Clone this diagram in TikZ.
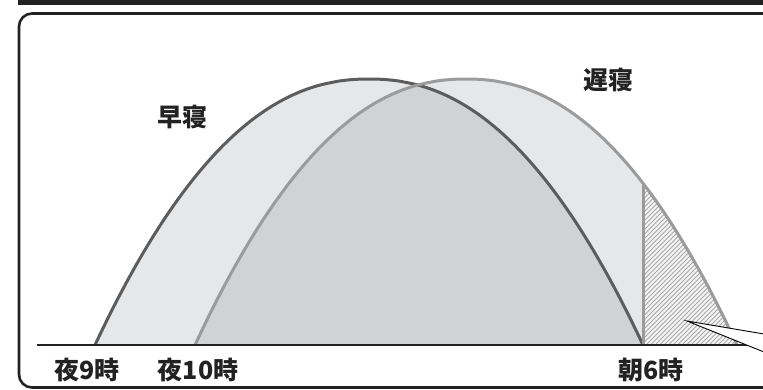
\documentclass[tikz,border=0pt]{standalone}
\usepackage{fontspec}
\newfontfamily\jp{Noto Sans CJK JP}
\definecolor{lightfill}{HTML}{E6E7E9}
\definecolor{darkfill}{HTML}{D1D2D4}
\definecolor{earlyc}{HTML}{5C5C5C}
\definecolor{latec}{HTML}{9B9B9B}
\definecolor{hatchc}{HTML}{A8A8A8}
\definecolor{framec}{HTML}{222222}
\begin{document}
\begin{tikzpicture}[x=1pt,y=-1pt,
  declare function={fe(\t)=345-266*(1-abs(\t)^2.2); fl(\t)=345-266*(1-abs(\t)^2.2);},
  earlyline/.style={draw=earlyc,line width=3pt},
  lateline/.style={draw=latec,line width=3pt},
  hatchline/.style={draw=hatchc,line width=0.9pt},
  axisline/.style={draw=framec,line width=2.6pt},
  framebox/.style={draw=framec,line width=2.6pt,rounded corners=13pt},
  lbl/.style={font=\jp\bfseries\fontsize{25}{25}\selectfont,text=framec,inner sep=0pt},
  callout/.style={fill=white,draw=black,line width=0.9pt}]
\useasboundingbox (0,0) rectangle (763,389);
\clip (0,0) rectangle (763,389);
% light fills
\fill[lightfill] plot[domain=-1:1,samples=100] ({369+274*\x},{fe(\x)}) -- cycle;
\fill[lightfill] plot[domain=-1:1,samples=100] ({466+271*\x},{fl(\x)}) -- cycle;
% overlap
\begin{scope}
  \clip plot[domain=-1:1,samples=100] ({369+274*\x},{fe(\x)}) -- cycle;
  \fill[darkfill] plot[domain=-1:1,samples=100] ({466+271*\x},{fl(\x)}) -- cycle;
\end{scope}
% hatched part
\begin{scope}
  \clip (643,0) rectangle (763,345);
  \clip plot[domain=-1:1,samples=100] ({466+271*\x},{fl(\x)}) -- cycle;
  \fill[white!96!black] (643,0) rectangle (763,345);
  \foreach \i in {0,...,62} \draw[hatchline] ({470+4.5*\i},350) -- ++(200,-200);
\end{scope}
% curves
\draw[earlyline] plot[domain=-1:1,samples=100] ({369+274*\x},{fe(\x)});
\draw[lateline] plot[domain=-1:1,samples=100] ({466+271*\x},{fl(\x)});
\coordinate (vb) at (643,345);
\coordinate (vt) at (643,{fl((643-466)/271)});
\draw[lateline] (vb) -- (vt);
% axis
\coordinate (b0) at (37,345);
\coordinate (b1) at (763,345);
\draw[axisline] (b0) -- (b1);
% callout wedge
\coordinate (tip) at (687,321);
\coordinate (w1) at (764,334);
\coordinate (w2) at (764,352);
\filldraw[callout] (w1) -- (tip) -- (w2);
% labels
\node[lbl] (early) at (182,117) {早寝};
\node[lbl] (late) at (608,80) {遅寝};
\node[lbl] (t9) at (87,370) {夜9時};
\node[lbl] (t10) at (198,370) {夜10時};
\node[lbl] (t6) at (651,370) {朝6時};
% frame and top bar
\draw[framebox] (19,13.5) rectangle (820,387.5);
\fill[framec] (18,0) rectangle (763,4.5);
\end{tikzpicture}
\end{document}
